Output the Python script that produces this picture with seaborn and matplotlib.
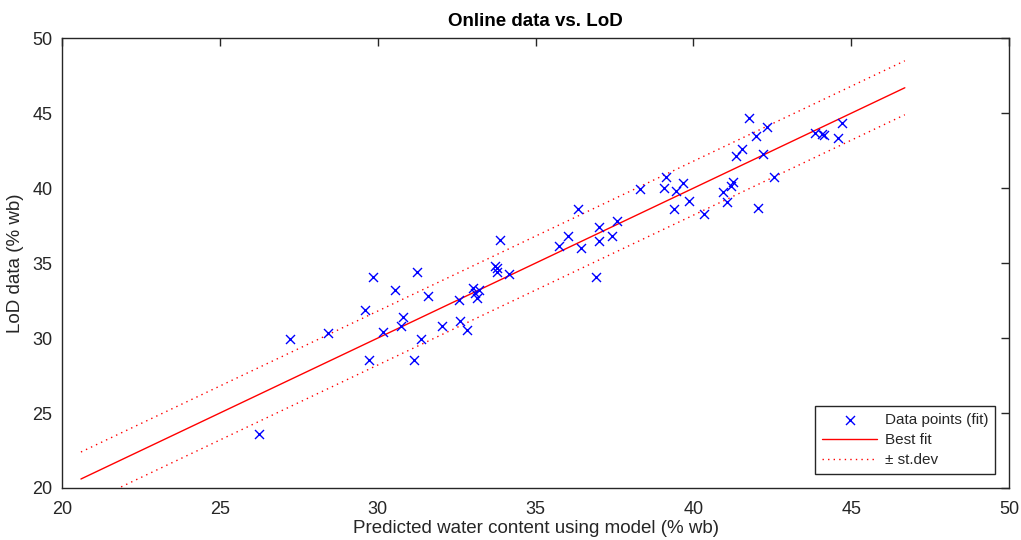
import matplotlib
matplotlib.use("Agg")
import matplotlib.pyplot as plt
import seaborn as sns
import numpy as np
import pandas as pd

# --- data ---
pred_x = [26.24, 27.22, 28.44, 29.61, 29.84, 29.73, 30.16, 30.54, 30.79, 30.73,
          31.15, 31.24, 31.36, 31.60, 32.05, 32.59, 32.62, 32.82, 33.01, 33.20,
          33.07, 33.14, 33.72, 33.77, 33.79, 33.87, 34.15, 35.74, 36.04, 36.34,
          36.43, 36.93, 37.00, 37.01, 37.43, 37.59, 38.32, 39.06, 39.14, 39.38,
          39.46, 39.67, 39.86, 40.33, 40.93, 41.06, 41.18, 41.27, 41.36, 41.55,
          41.75, 41.98, 42.06, 42.20, 42.32, 42.55, 43.84, 44.07, 44.15, 44.57,
          44.70]
lod_y = [23.60, 29.97, 30.35, 31.89, 34.07, 28.51, 30.40, 33.24, 31.40, 30.84,
         28.53, 34.42, 29.91, 32.82, 30.82, 32.57, 31.17, 30.57, 33.35, 33.22,
         33.02, 32.69, 34.82, 34.69, 34.39, 36.55, 34.29, 36.15, 36.80, 38.62,
         36.02, 34.07, 36.47, 37.44, 36.82, 37.82, 39.95, 40.00, 40.73, 38.62,
         39.82, 40.33, 39.17, 38.27, 39.77, 39.07, 40.15, 40.44, 42.17, 42.62,
         44.71, 43.49, 38.71, 42.27, 44.11, 40.73, 43.71, 43.64, 43.57, 43.37,
         44.37]

fit_x = [20.6, 46.7]
fit_y = [20.6, 46.7]
upper_y = [22.4, 48.5]
lower_y = [18.8, 44.9]

x_ticks = [20, 25, 30, 35, 40, 45, 50]
y_ticks = [20, 25, 30, 35, 40, 45, 50]

title = "Online data vs. LoD"
xlabel = "Predicted water content using model (% wb)"
ylabel = "LoD data (% wb)"
legend_labels = ["Data points (fit)", "Best fit", "\u00b1 st.dev"]

# --- style ---
sns.set_theme(style="white")
plt.rcParams['font.family'] = ['Liberation Sans', 'DejaVu Sans']
axc = (0.15, 0.15, 0.15)

fig = plt.figure(figsize=(10.21, 5.40), dpi=100)
ax = fig.add_axes([62/1021, 1 - 488/540, (1009 - 62)/1021, (488 - 38.3)/540])

pts = pd.DataFrame({"x": pred_x, "y": lod_y})
fit = pd.DataFrame({"x": fit_x, "y": fit_y, "up": upper_y, "lo": lower_y})

sns.scatterplot(data=pts, x="x", y="y", ax=ax, marker="x", color=(0, 0, 1),
                s=42, linewidth=1.0, label=legend_labels[0], zorder=3)
sns.lineplot(data=fit, x="x", y="y", ax=ax, color=(1, 0, 0), linewidth=1.0,
             label=legend_labels[1], zorder=2)
sns.lineplot(data=fit, x="x", y="up", ax=ax, color=(1, 0, 0), linewidth=1.0,
             linestyle=(0, (1, 3)), label=legend_labels[2], zorder=2)
sns.lineplot(data=fit, x="x", y="lo", ax=ax, color=(1, 0, 0), linewidth=1.0,
             linestyle=(0, (1, 3)), zorder=2)

ax.set_xlim(20, 50)
ax.set_ylim(20, 50)
ax.set_xticks(x_ticks)
ax.set_yticks(y_ticks)
ax.set_xticklabels([str(t) for t in x_ticks])
ax.set_yticklabels([str(t) for t in y_ticks])

for s in ax.spines.values():
    s.set_visible(True)
    s.set_color(axc)
    s.set_linewidth(1.0)
ax.tick_params(axis="both", which="both", direction="in", length=6, width=1.0,
               colors=axc, labelsize=13, top=True, right=True,
               labeltop=False, labelright=False)
ax.tick_params(axis="x", pad=9)
ax.tick_params(axis="y", pad=7)
for lbl in ax.get_xticklabels() + ax.get_yticklabels():
    lbl.set_color(axc)

ax.set_xlabel(xlabel, fontsize=13.5, color=axc, labelpad=2)
ax.set_ylabel(ylabel, fontsize=13.5, color=axc, labelpad=6)
ax.set_title(title, fontsize=13.5, fontweight="bold", color="black", pad=9)

leg = ax.legend(loc="lower right", fontsize=11, frameon=True, fancybox=False,
                framealpha=1, edgecolor=axc, borderpad=0.45, handlelength=3.6,
                handletextpad=0.5, labelspacing=0.4, borderaxespad=0.9)
leg.get_frame().set_linewidth(1.0)

fig.savefig("out.png", dpi=100)
